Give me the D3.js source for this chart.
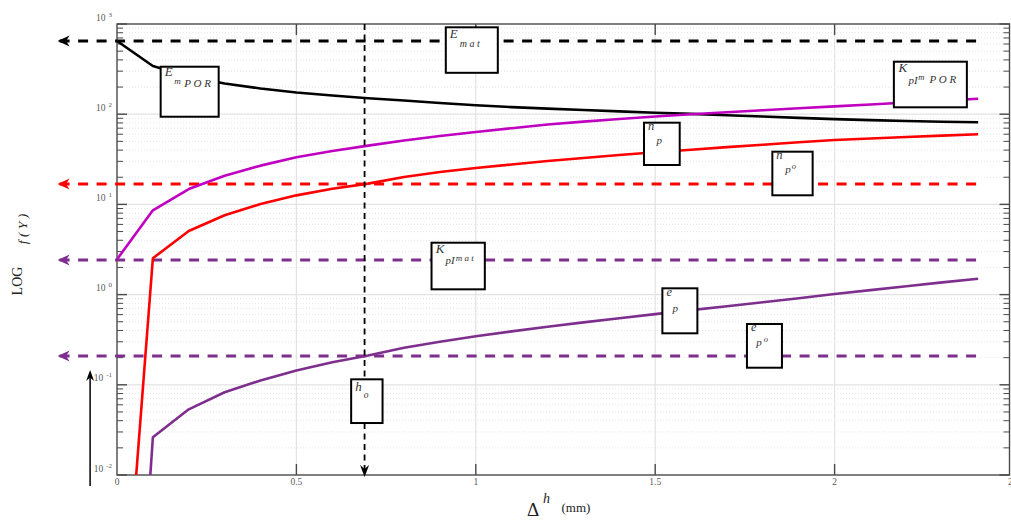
<!DOCTYPE html>
<html>
<head>
<meta charset="utf-8">
<script src="https://cdn.jsdelivr.net/npm/d3@7"></script>
<style>
  html, body { margin: 0; padding: 0; background: #fff; }
  svg { display: block; font-family: "Liberation Serif", "DejaVu Serif", serif; }
</style>
</head>
<body>
<div id="chart"></div>
<script>
// ---------- data ----------
const xSteps = [0, 0.1, 0.2, 0.3, 0.4, 0.5, 0.6, 0.7, 0.8, 0.9, 1.0, 1.1, 1.2,
                1.3, 1.4, 1.5, 1.6, 1.7, 1.8, 1.9, 2.0, 2.1, 2.2, 2.3, 2.4];

const ePOR    = [648, 342, 262, 219, 193, 174, 161, 150, 142, 133, 125.6, 119.8, 115.4,
                 111.3, 107.4, 103.9, 100.8, 97.5, 94.3, 91.0, 88.2, 86.0, 84.1, 82.6, 81.3];
const kPImPOR = [2.46, 8.6, 14.8, 20.8, 26.9, 33.3, 39.1, 44.8, 51.1, 57.3, 63.5, 70.0, 76.9,
                 82.8, 88.5, 94.2, 99.8, 105.2, 110.7, 116.4, 122.2, 128.2, 134.6, 141.3, 148.6];
const nP      = [1.7e-5, 2.53, 5.07, 7.57, 10.1, 12.6, 14.9, 17.0, 20.1, 22.9, 25.3, 27.7, 30.3,
                 32.7, 35.3, 37.8, 40.4, 43.1, 45.9, 48.8, 51.8, 53.8, 55.9, 57.9, 59.9];
const eP      = [3.8e-8, 0.0262, 0.0535, 0.0826, 0.1116, 0.144, 0.1776, 0.2113, 0.2578, 0.3005,
                 0.345, 0.391, 0.4395, 0.4917, 0.5475, 0.608, 0.673, 0.744, 0.822, 0.912,
                 1.016, 1.122, 1.239, 1.365, 1.501];

const seriesNames  = ["E_mPOR", "K_pImPOR", "n_p", "e_p"];
const seriesValues = [ePOR, kPImPOR, nP, eP];
const seriesColors = ["#000000", "#c000c0", "#ff0000", "#7e2f8e"];

// reference levels (dashed, with arrows to the left)
const refLevels = [648, 16.8, 2.42, 0.209];
const refColors = ["#000000", "#ff0000", "#7e2f8e", "#7e2f8e"];
const refTailX = 2.405;
const refHeadX = -0.16;

// h_o marker and the small up arrow
const hoX = 0.69;
const upArrow = { x: -0.075, from: 0.00755, to: 0.146 };

const xTicks = [0, 0.5, 1, 1.5, 2, 2.5];
const xTickLabels = ["0", "0.5", "1", "1.5", "2", "2.5"];
const yDecades = [-2, -1, 0, 1, 2, 3];
const yTickLabels = ["-2", "-1", "0", "1", "2", "3"];

// text boxes: anchor in data units
const boxAnchors = [
  { name: "E_mPOR",   x: 0.1217, y: 336 },
  { name: "E_mat",    x: 0.9164, y: 919 },
  { name: "K_pImPOR", x: 2.1652, y: 382 },
  { name: "n_p",      x: 1.4688, y: 80.5 },
  { name: "n_po",     x: 1.8265, y: 38.4 },
  { name: "K_pImat",  x: 0.8766, y: 3.76 },
  { name: "e_p",      x: 1.5200, y: 1.174 },
  { name: "e_po",     x: 1.7557, y: 0.472 },
  { name: "h_o",      x: 0.6526, y: 0.115 }
];

// ---------- layout ----------
const W = 1011, H = 520;

// box sizes and text pieces [text, dx, baseline dy, font size]
const boxLayout = {
  E_mPOR:   { w: 58, h: 50, parts: [["E", 4, 9.5, 13], ["m", 13.6, 17.3, 9], ["P O R", 23.6, 20.6, 11]] },
  E_mat:    { w: 52, h: 45.5, parts: [["E", 4, 10.4, 13], ["m a t", 14, 20, 10]] },
  K_pImPOR: { w: 73, h: 45.6, parts: [["K", 4.7, 10.5, 13], ["pI", 14.7, 22, 11], ["m", 24.5, 18.3, 8.5], ["P O R", 35.7, 21.6, 11]] },
  n_p:      { w: 35.7, h: 42.3, parts: [["n", 4, 6.8, 12.5], ["p", 12.4, 21.8, 11]] },
  n_po:     { w: 40.3, h: 43.6, parts: [["n", 4, 7.3, 12.5], ["p", 13, 21.3, 11], ["o", 19.3, 17.8, 8.5]] },
  K_pImat:  { w: 53.3, h: 46.6, parts: [["K", 4.3, 10.6, 13], ["pI", 14, 21.3, 11], ["m a t", 24.3, 18, 9]] },
  e_p:      { w: 35, h: 45, parts: [["e", 4, 7.7, 12.5], ["p", 10, 23.7, 11]] },
  e_po:     { w: 35, h: 43.7, parts: [["e", 4, 6.7, 12.5], ["p", 9.4, 22, 11], ["o", 16.7, 18.3, 8.5]] },
  h_o:      { w: 31.4, h: 43.7, parts: [["h", 4, 11.4, 13], ["o", 12.7, 19, 9.5]] }
};

const x = d3.scaleLinear().domain([0, 2.5]).range([117, 1014]);
const y = d3.scaleLog().domain([0.01, 1000]).range([475, 24]);

const plotLeft = x(0);
const plotRight = Math.min(x(2.5), W - 1.5);   // the reference is cropped at the right edge
const plotTop = y(1000);
const plotBottom = y(0.01);

const svg = d3.select("#chart").append("svg")
  .attr("width", W)
  .attr("height", H);

svg.append("defs").append("clipPath").attr("id", "plotClip")
  .append("rect")
  .attr("x", plotLeft).attr("y", plotTop)
  .attr("width", plotRight - plotLeft).attr("height", plotBottom - plotTop);

// ---------- grid ----------
const grid = svg.append("g");
const minorVals = [];
for (let k = -2; k < 3; k++) {
  for (let m = 2; m <= 9; m++) minorVals.push(m * Math.pow(10, k));
}
grid.selectAll("line.minor").data(minorVals).enter().append("line")
  .attr("x1", plotLeft).attr("x2", plotRight)
  .attr("y1", d => y(d)).attr("y2", d => y(d))
  .attr("stroke", "#dedede").attr("stroke-width", 0.8)
  .attr("stroke-dasharray", "1,2");

grid.selectAll("line.major").data(yDecades.slice(1, -1)).enter().append("line")
  .attr("x1", plotLeft).attr("x2", plotRight)
  .attr("y1", d => y(Math.pow(10, d))).attr("y2", d => y(Math.pow(10, d)))
  .attr("stroke", "#e3e3e3").attr("stroke-width", 1.2);

grid.selectAll("line.vmajor").data(xTicks.slice(1, -1)).enter().append("line")
  .attr("x1", d => x(d)).attr("x2", d => x(d))
  .attr("y1", plotTop).attr("y2", plotBottom)
  .attr("stroke", "#e3e3e3").attr("stroke-width", 1.2);

// ---------- axes frame + ticks ----------
const axisColor = "#4a4a4a";
const axes = svg.append("g").attr("stroke", axisColor);

axes.append("rect")
  .attr("x", plotLeft).attr("y", plotTop)
  .attr("width", plotRight - plotLeft).attr("height", plotBottom - plotTop)
  .attr("fill", "none").attr("stroke-width", 1.4);

// y ticks (inside, both sides)
yDecades.forEach(k => {
  const yy = y(Math.pow(10, k));
  axes.append("line").attr("x1", plotLeft).attr("x2", plotLeft + 10).attr("y1", yy).attr("y2", yy).attr("stroke-width", 1.4);
  axes.append("line").attr("x1", plotRight).attr("x2", plotRight - 10).attr("y1", yy).attr("y2", yy).attr("stroke-width", 1.4);
});
minorVals.forEach(v => {
  const yy = y(v);
  axes.append("line").attr("x1", plotLeft).attr("x2", plotLeft + 6).attr("y1", yy).attr("y2", yy).attr("stroke-width", 1);
  axes.append("line").attr("x1", plotRight).attr("x2", plotRight - 6).attr("y1", yy).attr("y2", yy).attr("stroke-width", 1);
});

// x ticks (inside, top and bottom)
xTicks.slice(1, -1).forEach(t => {
  const xx = x(t);
  axes.append("line").attr("x1", xx).attr("x2", xx).attr("y1", plotBottom).attr("y2", plotBottom - 11).attr("stroke-width", 1.4);
  axes.append("line").attr("x1", xx).attr("x2", xx).attr("y1", plotTop).attr("y2", plotTop + 11).attr("stroke-width", 1.4);
});

// tick labels
const tickColor = "#5a5a5a";
svg.append("g").selectAll("text").data(xTicks).enter().append("text")
  .attr("x", d => x(d))
  .attr("y", plotBottom + 10)
  .attr("text-anchor", "middle")
  .attr("fill", tickColor)
  .style("font-size", "9.5px")
  .text((d, i) => xTickLabels[i]);

const yLab = svg.append("g").selectAll("text").data(yDecades).enter().append("text")
  .attr("x", plotLeft - 5)
  .attr("y", d => y(Math.pow(10, d)) - 3.5)
  .attr("text-anchor", "end")
  .attr("fill", tickColor)
  .style("font-size", "9.5px");
yLab.append("tspan").text("10");
yLab.append("tspan")
  .attr("dx", 3).attr("dy", -4)
  .style("font-size", "7px")
  .text((d, i) => yTickLabels[i]);

// ---------- axis titles ----------
svg.append("text")
  .attr("transform", "translate(21.5,281) rotate(-90)")
  .attr("text-anchor", "middle")
  .attr("fill", "#222")
  .style("font-size", "14px")
  .text("LOG");
svg.append("text")
  .attr("transform", "translate(27,229) rotate(-90)")
  .attr("text-anchor", "middle")
  .attr("fill", "#222")
  .style("font-size", "13.5px")
  .style("font-style", "italic")
  .text("f ( Y )");

const xTitle = svg.append("g").attr("fill", "#222");
xTitle.append("text").attr("x", 527).attr("y", 515.5).style("font-size", "19px").text("\u0394");
xTitle.append("text").attr("x", 543).attr("y", 502.5).style("font-size", "14px").style("font-style", "italic").text("h");
xTitle.append("text").attr("x", 561.5).attr("y", 512).style("font-size", "13px").text("(mm)");

// ---------- arrows helper ----------
function arrowHead(tx, ty, dx, dy, len, half, notch) {
  const bx = tx - dx * len, by = ty - dy * len;
  const px = -dy, py = dx;
  const nx = tx - dx * notch, ny = ty - dy * notch;
  return `M${tx},${ty}L${bx + px * half},${by + py * half}L${nx},${ny}L${bx - px * half},${by - py * half}Z`;
}

// ---------- reference dashed levels ----------
const refs = svg.append("g");
refLevels.forEach((v, i) => {
  const yy = y(v);
  refs.append("line")
    .attr("x1", x(refHeadX)).attr("x2", x(refTailX))
    .attr("y1", yy).attr("y2", yy)
    .attr("stroke", refColors[i]).attr("stroke-width", 3)
    .attr("stroke-dasharray", "10,8.5");
  refs.append("path")
    .attr("d", arrowHead(x(refHeadX) - 2, yy, -1, 0, 12, 5.5, 8.5))
    .attr("fill", refColors[i]);
});

// ---------- series ----------
const line = d3.line()
  .x((d, i) => x(xSteps[i]))
  .y(d => y(d));

svg.append("g").attr("clip-path", "url(#plotClip)")
  .selectAll("path").data(seriesValues).enter().append("path")
  .attr("d", d => line(d))
  .attr("fill", "none")
  .attr("stroke", (d, i) => seriesColors[i])
  .attr("stroke-width", 2.6)
  .attr("stroke-linejoin", "round")
  .attr("class", (d, i) => seriesNames[i]);

// ---------- h_o vertical marker ----------
svg.append("line")
  .attr("x1", x(hoX)).attr("x2", x(hoX))
  .attr("y1", plotTop).attr("y2", plotBottom - 4)
  .attr("stroke", "#000").attr("stroke-width", 1.8)
  .attr("stroke-dasharray", "6,4.5");
svg.append("path")
  .attr("d", arrowHead(x(hoX), plotBottom + 2, 0, 1, 12, 4.5, 8))
  .attr("fill", "#000");

// small up arrow at the left
svg.append("line")
  .attr("x1", x(upArrow.x)).attr("x2", x(upArrow.x))
  .attr("y1", y(upArrow.from)).attr("y2", y(upArrow.to) + 6)
  .attr("stroke", "#000").attr("stroke-width", 1.5);
svg.append("path")
  .attr("d", arrowHead(x(upArrow.x), y(upArrow.to), 0, -1, 11, 4, 7.5))
  .attr("fill", "#000");

// ---------- text boxes ----------
const boxes = svg.append("g");
boxAnchors.forEach(b => {
  const lay = boxLayout[b.name];
  const bx = x(b.x), by = y(b.y);
  const g = boxes.append("g").attr("transform", `translate(${bx},${by})`);
  g.append("rect")
    .attr("width", lay.w).attr("height", lay.h)
    .attr("fill", "#fff").attr("stroke", "#000").attr("stroke-width", 2);
  lay.parts.forEach(p => {
    g.append("text")
      .attr("x", p[1]).attr("y", p[2])
      .attr("fill", "#333")
      .style("font-size", p[3] + "px")
      .style("font-style", "italic")
      .text(p[0]);
  });
});
</script>
</body>
</html>
